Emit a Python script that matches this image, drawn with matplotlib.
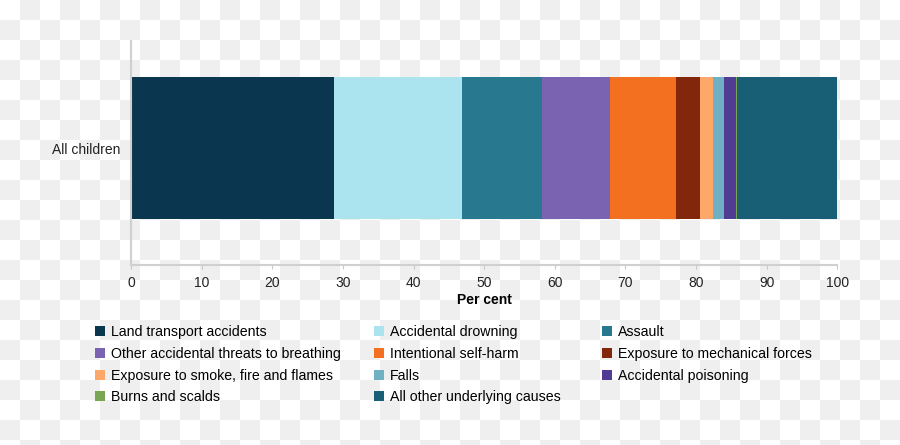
import numpy as np
import matplotlib
matplotlib.use("Agg")
import matplotlib.pyplot as plt
from matplotlib.patches import Patch

plt.rcParams['font.family'] = ['Liberation Sans', 'DejaVu Sans']

# Data: share of child deaths by underlying cause (per cent)
group = "All children"
causes = [
    "Land transport accidents",
    "Accidental drowning",
    "Assault",
    "Other accidental threats to breathing",
    "Intentional self-harm",
    "Exposure to mechanical forces",
    "Exposure to smoke, fire and flames",
    "Falls",
    "Accidental poisoning",
    "Burns and scalds",
    "All other underlying causes",
]
shares = [28.7, 18.1, 11.4, 9.6, 9.4, 3.4, 1.8, 1.6, 1.6, 0.2, 14.2]
colors = ["#0a374f", "#abe3ee", "#287890", "#7a63b0", "#f37021", "#82260c",
          "#fda869", "#6fb1c2", "#513c94", "#78a653", "#185e74"]

fig = plt.figure(figsize=(9, 4.45), dpi=100)

# checkerboard backdrop (transparent background look)
h, w = 445, 900
yy, xx = np.mgrid[0:h, 0:w]
odd = ((xx // 20) + (yy // 20)) % 2 == 1
bg = np.ones((h, w, 3))
bg[odd] = 0xef / 255
fig.figimage(bg, xo=0, yo=0, origin='upper', zorder=-1)

ax = fig.add_axes([131 / 900, 1 - 265 / 445, (837.3 - 131) / 900, 224 / 445])
ax.set_facecolor('none')

left = 0
for cause, val, col in zip(causes, shares, colors):
    ax.barh(0, val, left=left, height=0.6, color=col, linewidth=0, label=cause)
    left += val

ax.set_xlim(0, 100)
ax.set_ylim(-0.494, 0.452)
ax.set_xticks(range(0, 101, 10))
ax.set_yticks([0])
ax.set_yticklabels([group])
ax.tick_params(axis='y', length=0, pad=8, labelsize=10, labelcolor='#222222')
ax.tick_params(axis='x', length=3, color='#c8c8c8', pad=5, labelsize=10,
               labelcolor='#222222')
for s in ['top', 'right']:
    ax.spines[s].set_visible(False)
for s in ['left', 'bottom']:
    ax.spines[s].set_color('#d0d0d0')
    ax.spines[s].set_linewidth(1.5)
ax.set_xlabel("Per cent", fontsize=10, fontweight='bold', labelpad=2)

# legend in three columns, row-major order like the original
handles = [Patch(facecolor=c, edgecolor='none') for c in colors]
col_x = [95, 374, 602]
for k in range(3):
    idx = list(range(k, len(causes), 3))
    fig.legend([handles[i] for i in idx], [causes[i] for i in idx],
               loc='upper left', bbox_to_anchor=(col_x[k] / 900, 1 - 325 / 445),
               frameon=False, fontsize=10.2, handlelength=0.7, handleheight=0.7,
               handletextpad=0.4, labelspacing=0.55, borderpad=0, borderaxespad=0)

fig.savefig("out.png", dpi=100)
